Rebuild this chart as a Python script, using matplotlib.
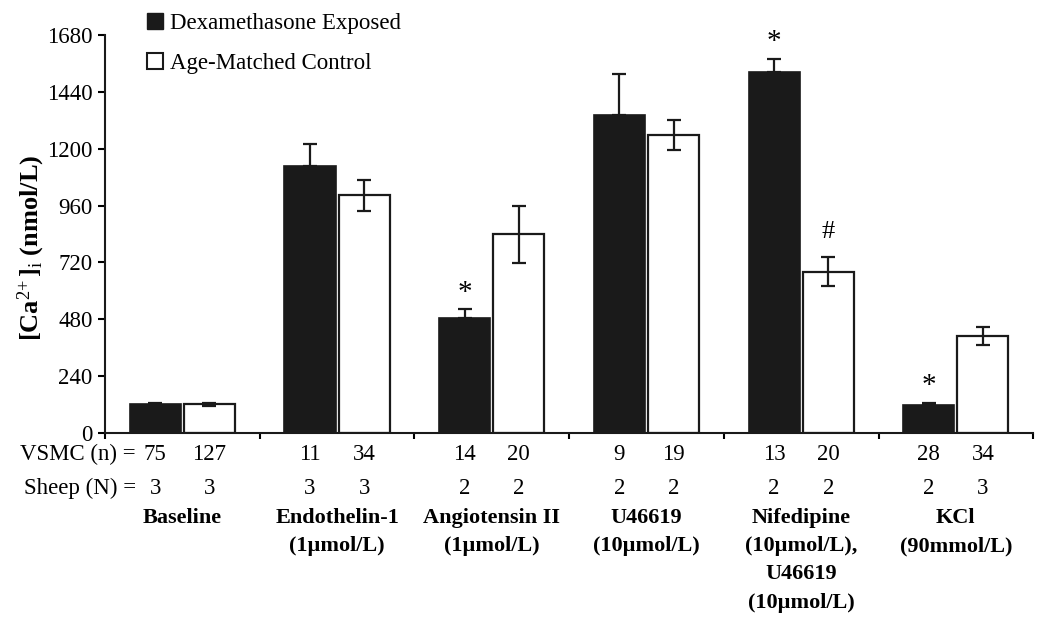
import numpy as np
import matplotlib
matplotlib.use("Agg")
import matplotlib.pyplot as plt
from matplotlib.patches import Patch
from matplotlib.transforms import blended_transform_factory

plt.rcParams['font.family'] = ['Liberation Serif', 'DejaVu Serif']
plt.rcParams['mathtext.fontset'] = 'custom'
plt.rcParams['mathtext.rm'] = 'Liberation Serif'
plt.rcParams['mathtext.it'] = 'Liberation Serif:italic'
plt.rcParams['mathtext.bf'] = 'Liberation Serif:bold'

# data
groups = ["Baseline", "Endothelin-1\n(1µmol/L)", "Angiotensin II\n(1µmol/L)",
          "U46619\n(10µmol/L)", "Nifedipine\n(10µmol/L),\nU46619\n(10µmol/L)",
          "KCl\n(90mmol/L)"]
dex = [121, 1127, 487, 1342, 1523, 120]
dex_err = [7, 93, 35, 172, 56, 7]
ctrl = [121, 1003, 839, 1258, 681, 411]
ctrl_err = [7, 65, 120, 64, 60, 38]
dex_marks = ["", "", "*", "", "*", "*"]
ctrl_marks = ["", "", "", "", "#", ""]
vsmc_dex = [75, 11, 14, 9, 13, 28]
vsmc_ctrl = [127, 34, 20, 19, 20, 34]
sheep_dex = [3, 3, 2, 2, 2, 2]
sheep_ctrl = [3, 3, 2, 2, 2, 3]
yticks = [0, 240, 480, 720, 960, 1200, 1440, 1680]

dark = '#1a1a1a'
fs = 16.5
fig = plt.figure(figsize=(10.5, 6.24), dpi=100)
ax = fig.add_axes([0.1, 0.306, 0.884, 0.638])

x = np.arange(len(groups))
w = 0.33
off = 0.175
ekw = dict(ecolor=dark, elinewidth=1.6, capsize=4.7, capthick=1.6)
ax.bar(x - off, dex, w, color=dark, edgecolor=dark, linewidth=1.2,
       yerr=[np.zeros(len(dex)), dex_err], error_kw=ekw, zorder=2)
ax.bar(x + off, ctrl, w, color='white', edgecolor=dark, linewidth=1.6,
       yerr=ctrl_err, error_kw=ekw, zorder=2)

for i in range(len(groups)):
    if dex_marks[i]:
        ax.annotate(dex_marks[i], (x[i] - off, dex[i] + dex_err[i]),
                    xytext=(0, 12), textcoords='offset points',
                    ha='center', va='center', fontsize=21)
    if ctrl_marks[i]:
        ax.annotate(ctrl_marks[i], (x[i] + off, ctrl[i] + ctrl_err[i]),
                    xytext=(0, 18), textcoords='offset points',
                    ha='center', va='center', fontsize=19)

ax.set_xlim(-0.5, len(groups) - 0.5)
ax.set_ylim(0, 1680)
ax.set_yticks(yticks)
ax.set_xticks(np.arange(-0.5, len(groups), 1))
ax.set_xticklabels([])
ax.tick_params(axis='y', direction='out', length=5, width=1.5, pad=4, labelsize=16.5)
ax.tick_params(axis='x', direction='out', length=4.5, width=1.5)
for s in ['top', 'right']:
    ax.spines[s].set_visible(False)
for s in ['left', 'bottom']:
    ax.spines[s].set_linewidth(1.5)
    ax.spines[s].set_color(dark)

# table rows under the axis
tr = blended_transform_factory(ax.transData, ax.transAxes)
ax.text(-0.300, -0.054, "VSMC (n) =", transform=tr, ha='right', va='center', fontsize=fs)
ax.text(-0.300, -0.140, "Sheep (N) =", transform=tr, ha='right', va='center', fontsize=fs)
for i in range(len(groups)):
    ax.text(x[i] - off, -0.054, str(vsmc_dex[i]), transform=tr, ha='center', va='center', fontsize=fs)
    ax.text(x[i] + off, -0.054, str(vsmc_ctrl[i]), transform=tr, ha='center', va='center', fontsize=fs)
    ax.text(x[i] - off, -0.140, str(sheep_dex[i]), transform=tr, ha='center', va='center', fontsize=fs)
    ax.text(x[i] + off, -0.140, str(sheep_ctrl[i]), transform=tr, ha='center', va='center', fontsize=fs)
    ax.text(x[i], -0.188, groups[i], transform=tr, ha='center', va='top',
            fontsize=16, fontweight='bold', linespacing=1.55)

fig.text(31 / 1050, 1 - 248 / 624, r"[Ca$^{2\!+}$]$_\mathrm{i}$ (nmol/L)",
         rotation=90, ha='center', va='center', fontsize=19, fontweight='bold')

handles = [Patch(facecolor=dark, edgecolor=dark), Patch(facecolor='white', edgecolor=dark, linewidth=1.5)]
fig.legend(handles, ["Dexamethasone Exposed", "Age-Matched Control"], loc='upper left',
           bbox_to_anchor=(0.128, 1.0), frameon=False, fontsize=16.5,
           handlelength=0.7, handleheight=0.7, handletextpad=0.3, labelspacing=0.85,
           borderpad=0.05)

fig.savefig("out.png", dpi=100)
